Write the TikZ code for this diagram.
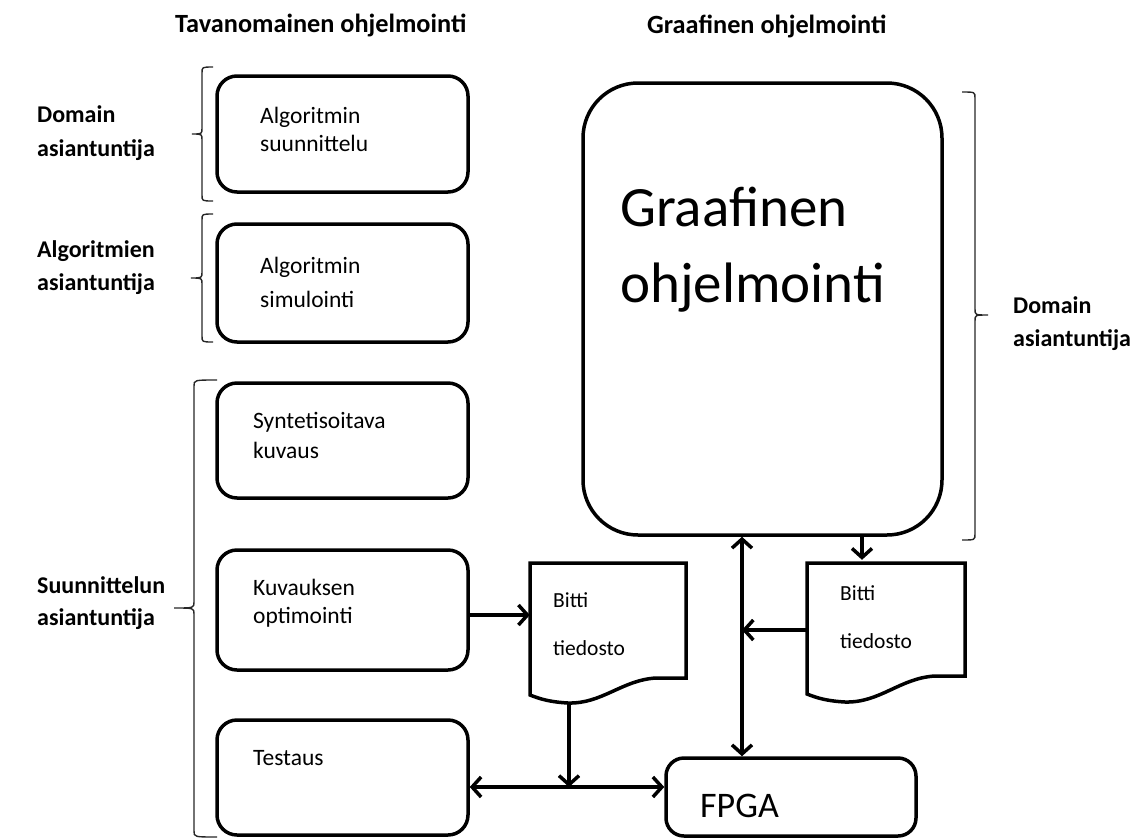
\documentclass[tikz,border=0pt]{standalone}
\usepackage{fontspec}
\setmainfont{Carlito}
\usetikzlibrary{arrows.meta}
\begin{document}
\begin{tikzpicture}[x=1pt,y=-1pt,
  box/.style={draw, line width=3.5pt, rounded corners=20pt, minimum width=251pt, inner sep=0pt},
  bigbox/.style={draw, line width=3.5pt, rounded corners=55pt, minimum width=359pt, minimum height=452pt, inner sep=0pt},
  anch/.style={draw=none, inner sep=0pt},
  docshape/.style={draw, line width=3.5pt, line join=miter},
  lab/.style={font=\bfseries\fontsize{24}{33}\selectfont, align=left, anchor=base west, inner sep=0pt},
  ttl/.style={font=\bfseries\fontsize{26.3}{30}\selectfont, anchor=base west, inner sep=0pt},
  txt/.style={font=\fontsize{23.5}{29}\selectfont, align=left, anchor=base west, inner sep=0pt},
  arr/.style={line width=3.5pt, -{Straight Barb[length=9pt,width=20pt,line width=3.5pt]}},
  arrr/.style={line width=3.5pt, {Straight Barb[length=9pt,width=20pt,line width=3.5pt]}-{Straight Barb[length=9pt,width=20pt,line width=3.5pt]}},
  brc/.style={line width=1.4pt, draw=black!85}
]
\useasboundingbox (0,0) rectangle (1136,839);

% titles
\node[ttl] (title1) at (175,32) {Tavanomainen ohjelmointi};
\node[ttl] (title2) at (647,33) {Graafinen ohjelmointi};

% left column boxes
\node[box, minimum height=116pt] (b1) at (342.5,134) {};
\node[box, minimum height=118pt] (b2) at (342.5,283) {};
\node[box, minimum height=115pt] (b3) at (342.5,440.5) {};
\node[box, minimum height=120pt] (b4) at (342.5,610) {};
\node[box, minimum height=115pt] (b5) at (342.5,777.5) {};

\node[txt, font=\fontsize{23.5}{28}\selectfont] (t1) at (260,151) {Algoritmin\\suunnittelu};
\node[txt, font=\fontsize{23.5}{34}\selectfont] (t2) at (260,307) {Algoritmin\\simulointi};
\node[txt, font=\fontsize{23.5}{30}\selectfont] (t3) at (253,458) {Syntetisoitava\\kuvaus};
\node[txt, font=\fontsize{23.5}{28}\selectfont] (t4) at (253,623) {Kuvauksen\\optimointi};
\node[txt] (t5) at (253,765) {Testaus};

% big box
\node[bigbox] (big) at (762.5,309) {};
\node[font=\fontsize{57}{76}\selectfont, align=left, anchor=base west, inner sep=0pt] (gt) at (620,302) {Graafinen\\ohjelmointi};

% FPGA
\node[draw, line width=3.5pt, rounded corners=18pt, minimum width=250pt, minimum height=78pt, inner sep=0pt] (fpga) at (791,797) {};
\node[font=\fontsize{36}{40}\selectfont, anchor=base west, inner sep=0pt] (ft) at (700,817) {FPGA};

% documents
\node[anch, minimum width=156pt, minimum height=140pt] (doc1) at (608,633) {};
\draw[docshape] (530,563) -- (686,563) -- (686,678) -- (656,678)
  .. controls (622,680) and (602,704) .. (568,703)
  .. controls (550,702) and (540,699) .. (530,695) -- cycle;
\node[txt, font=\fontsize{21.5}{48}\selectfont] (dt1) at (553,655) {Bitti\\tiedosto};

\node[anch, minimum width=158pt, minimum height=140pt] (doc2) at (886,630) {};
\draw[docshape] (807,563) -- (965,563) -- (965,676) -- (935,676)
  .. controls (900,678) and (880,703) .. (845,702)
  .. controls (827,701) and (817,698) .. (807,694) -- cycle;
\node[txt, font=\fontsize{21.5}{48}\selectfont] (dt2) at (840,648) {Bitti\\tiedosto};

% connectors
\coordinate (k) at ([yshift=-5pt]b4.east);
\draw[arr] (k) -- (k -| doc1.west);
\coordinate (d1b) at (569,703);
\coordinate (j) at (569,787);
\draw[arr] (d1b) -- (j);
\draw[arrr] (b5.east |- j) -- (fpga.west |- j);
\coordinate (v) at (742,0);
\draw[arrr] (fpga.north -| v) -- (big.south -| v);
\coordinate (w) at (862,0);
\draw[arr] (big.south -| w) -- (doc2.north -| w);
\draw[arr] (doc2.west) -- (doc2.west -| v);

% braces
\draw[brc] (213,67) .. controls (202,67) .. (202,73) -- (202,128) .. controls (202,134) .. (192,134)
  .. controls (202,134) .. (202,140) -- (202,195) .. controls (202,201) .. (213,201);
\draw[brc] (213,214) .. controls (202,214) .. (202,220) -- (202,272) .. controls (202,278) .. (191,278)
  .. controls (202,278) .. (202,284) -- (202,336) .. controls (202,342) .. (213,342);
\draw[brc] (217,380) .. controls (194,380) .. (194,386) -- (194,602) .. controls (194,608) .. (174,608)
  .. controls (194,608) .. (194,614) -- (194,831) .. controls (194,837) .. (217,837);
\draw[brc] (962,92) .. controls (975,92) .. (975,98) -- (975,309) .. controls (975,315) .. (988,315)
  .. controls (975,315) .. (975,321) -- (975,534) .. controls (975,540) .. (962,540);

% role labels
\node[lab, font=\bfseries\fontsize{24}{34}\selectfont] (l1) at (37,156) {Domain\\asiantuntija};
\node[lab] (l2) at (37,290) {Algoritmien\\asiantuntija};
\node[lab, font=\bfseries\fontsize{24}{32}\selectfont] (l3) at (37,625) {Suunnittelun\\asiantuntija};
\node[lab] (l4) at (1013,346) {Domain\\asiantuntija};
\end{tikzpicture}
\end{document}
